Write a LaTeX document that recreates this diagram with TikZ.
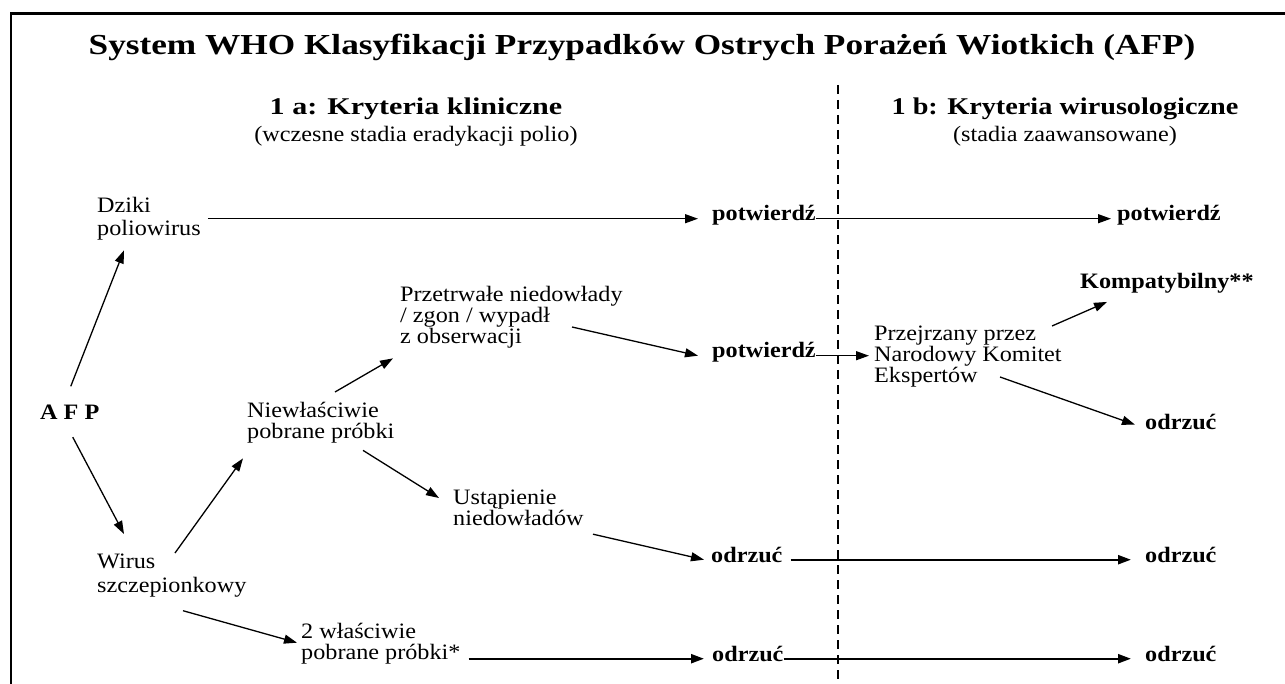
\documentclass[tikz,border=0pt]{standalone}
\usepackage{fontspec}
\setmainfont{Liberation Serif}[FakeStretch=1.1]
\usetikzlibrary{arrows.meta,calc}
\begin{document}
\begin{tikzpicture}[x=1pt,y=-1pt,
  txt/.style={inner sep=0pt,font=\fontsize{22}{21}\selectfont,align=left},
  bl/.style={inner sep=0pt,font=\fontsize{22}{21}\selectfont\bfseries},
  hd/.style={inner sep=0pt,font=\fontsize{22}{27}\selectfont,align=center},
  arr/.style={line width=1.3pt,-{Triangle[length=13pt,width=9pt]}},
  arrb/.style={line width=2.2pt,-{Triangle[length=13pt,width=9pt]}}]
\useasboundingbox (0,0) rectangle (1285,684);
% frame
\draw[line width=2.4pt] (11,684) -- (11,13.5) -- (1285,13.5);
% title
\node[inner sep=0pt,anchor=base,font=\fontsize{29}{29}\selectfont\bfseries] (title) at (642,55) {\scalebox{1.105}[1]{System WHO Klasyfikacji Przypadków Ostrych Porażeń Wiotkich (AFP)}};
\node[hd,anchor=north] (ha) at (416,98) {{\fontsize{24}{27}\selectfont\bfseries\scalebox{1.14}[1]{1 a: Kryteria kliniczne}}\\(wczesne stadia eradykacji polio)};
\node[hd,anchor=north] (hb) at (1065,98) {{\fontsize{24}{27}\selectfont\bfseries\scalebox{1.07}[1]{1 b: Kryteria wirusologiczne}}\\(stadia zaawansowane)};
% dashed divider
\coordinate (dtop) at (838,85);
\coordinate (dbot) at (838,684);
\draw[line width=1.6pt,dash pattern=on 9pt off 6pt] (dtop) -- (dbot);
% nodes
\node[bl,anchor=base west] (afp) at (40,419) {A F P};
\node[txt,anchor=north west] (dziki) at (97,197) {Dziki\\[2pt]poliowirus};
\node[txt,anchor=north west] (przetr) at (400,286) {Przetrwałe niedowłady\\/ zgon / wypadł\\z obserwacji};
\node[txt,anchor=north west] (niewl) at (247,402) {Niewłaściwie\\pobrane próbki};
\node[txt,anchor=north west] (ustap) at (453,490) {Ustąpienie\\niedowładów};
\node[txt,anchor=north west] (wirus) at (97,554) {Wirus\\[3pt]szczepionkowy};
\node[txt,anchor=north west] (dwa) at (301,623) {2 właściwie\\pobrane próbki*};
\node[txt,anchor=north west] (przejrz) at (874,326) {Przejrzany przez\\Narodowy Komitet\\Ekspertów};
\node[bl,anchor=base west] (pot1) at (712,221) {potwierdź};
\node[bl,anchor=base west] (pot1b) at (1117,221) {potwierdź};
\node[bl,anchor=base west] (pot2) at (712,358) {potwierdź};
\node[bl,anchor=base west] (komp) at (1080,289) {Kompatybilny**};
\node[bl,anchor=base west] (odr1) at (1145,429) {odrzuć};
\node[bl,anchor=base west] (odr2) at (711,562) {odrzuć};
\node[bl,anchor=base west] (odr2b) at (1145,562) {odrzuć};
\node[bl,anchor=base west] (odr3) at (712,661) {odrzuć};
\node[bl,anchor=base west] (odr3b) at (1145,661) {odrzuć};
% connectors
\draw[arr] ($(afp.north)+(1,-18)$) -- ($(dziki.south west)+(27,10)$);
\draw[arr] ($(afp.south)+(3,18)$) -- ($(wirus.north west)+(27,-20)$);
\draw[arr] ($(dziki.east|-pot1.mid)+(7,0)$) -- ($(pot1.mid west)+(-14,0)$);
\draw[arr] (pot1.mid east) -- ($(pot1b.mid west)+(-6,0)$);
\draw[arr] ($(wirus.north west)+(78,-1)$) -- ($(niewl.south west)+(-4,15)$);
\draw[arr] ($(niewl.north west)+(88,-10)$) -- ($(przetr.south west)+(-7,10)$);
\draw[arr] ($(niewl.south west)+(116,7)$) -- ($(ustap.north west)+(-14,8)$);
\draw[arr] ($(przetr.north west)+(172,41)$) -- ($(pot2.mid west)+(-14,0)$);
\draw[arr] (pot2.mid east) -- ($(przejrz.west|-pot2.mid)+(-5,0)$);
\draw[arr] ($(przejrz.north west)+(178,0)$) -- ($(komp.south west)+(27,8)$);
\draw[arr] ($(przejrz.north west)+(126,51)$) -- ($(odr1.mid west)+(-10,-2)$);
\draw[arr] ($(ustap.south west)+(140,8)$) -- ($(odr2.mid west)+(-7,0)$);
\draw[arrb] (odr2.mid east) ++(8,0) -- ($(odr2b.mid west)+(-14,0)$);
\draw[arr] ($(wirus.south west)+(86,13)$) -- ($(dwa.west)+(-4,-1)$);
\draw[arrb] ($(dwa.east|-odr3.mid)+(8,0)$) -- ($(odr3.mid west)+(-8,0)$);
\draw[arrb] (odr3.mid east) -- ($(odr3b.mid west)+(-14,0)$);
\end{tikzpicture}
\end{document}
